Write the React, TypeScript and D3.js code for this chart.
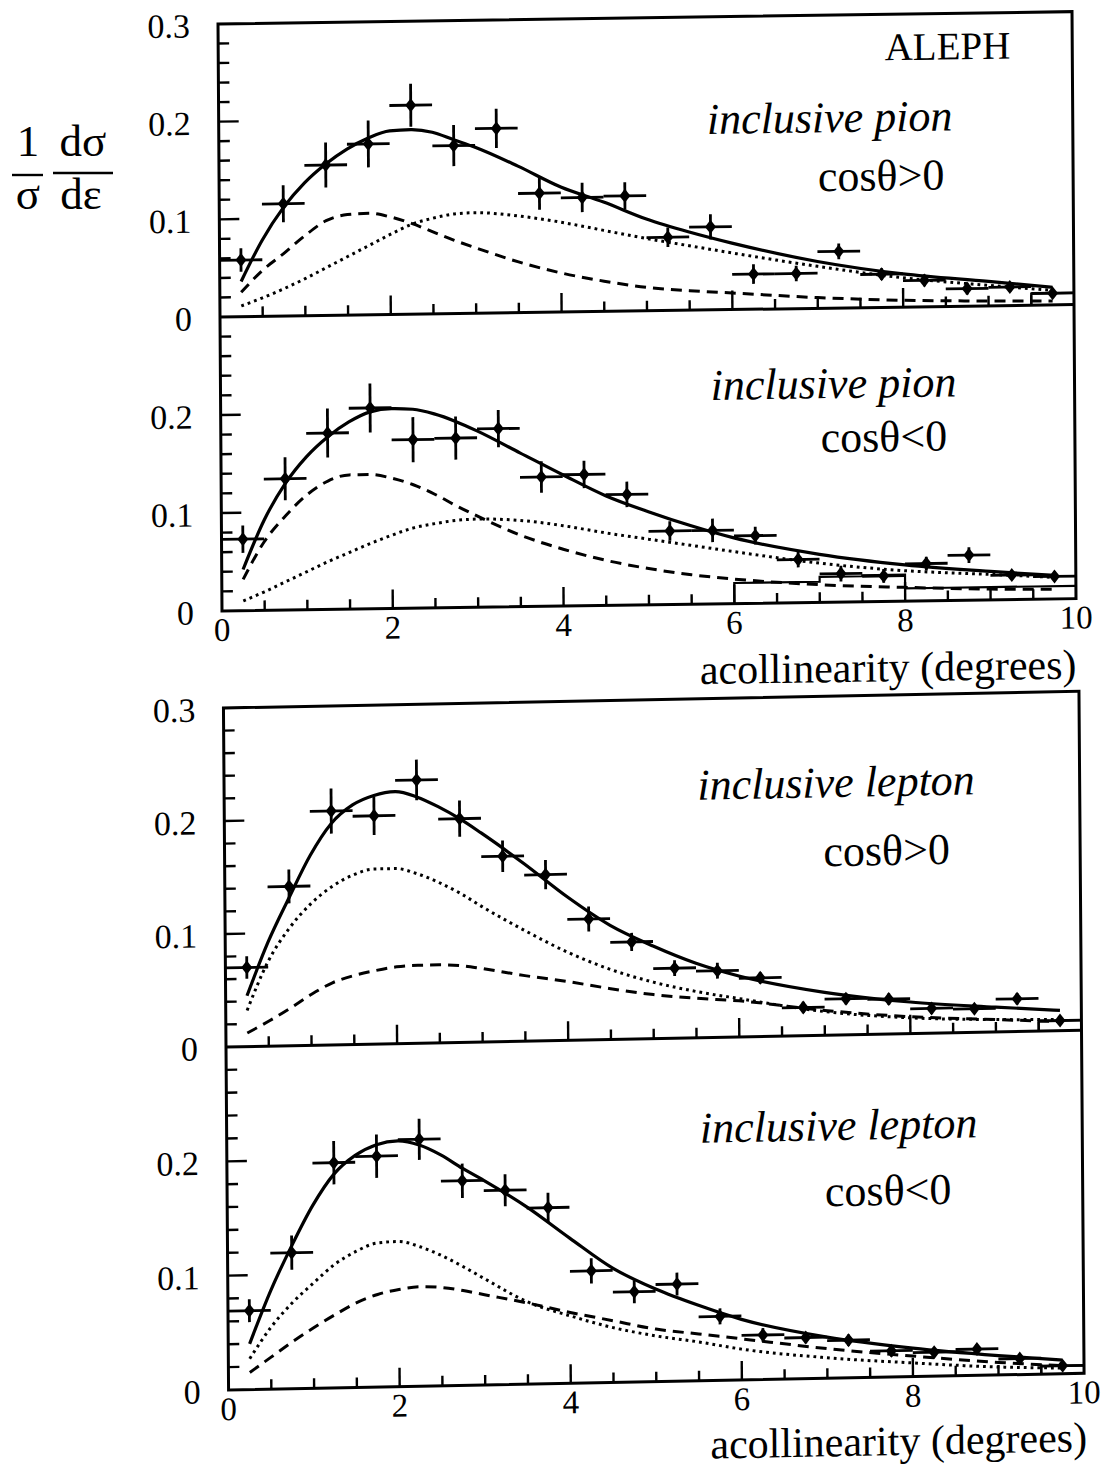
import React from "react";
import * as d3 from "d3";

const WIDTH = 1108;
const HEIGHT = 1474;
const FONT = '"Liberation Serif", "Times New Roman", Times, serif';

// Acollinearity bins: 0.5 degree wide, centres listed here
const BIN_CENTERS = [0.25, 0.75, 1.25, 1.75, 2.25, 2.75, 3.25, 3.75, 4.25, 4.75, 5.25, 5.75, 6.25, 6.75, 7.25, 7.75, 8.25, 8.75, 9.25, 9.75];
const BIN_HALF_WIDTH = 0.25;

// Abscissae at which the fitted curves are tabulated
const CURVE_X = [0.25, 0.5, 0.75, 1.0, 1.25, 1.5, 1.75, 2.0, 2.25, 2.5, 2.75, 3.0, 3.5, 4.0, 4.5, 5.0, 5.5, 6.0, 7.0, 8.0, 9.0, 9.75];

// Inclusive pion, cos(theta) > 0
const PION_FWD_VALUES = [0.058, 0.115, 0.154, 0.175, 0.214, 0.172, 0.189, 0.122, 0.117, 0.118, 0.075, 0.085, 0.036, 0.036, 0.058, 0.034, 0.027, 0.018, 0.019, 0.012];
const PION_FWD_ERRORS = [0.012, 0.019, 0.023, 0.024, 0.022, 0.021, 0.020, 0.017, 0.015, 0.014, 0.010, 0.013, 0.010, 0.008, 0.008, 0.006, 0.006, 0.006, 0.005, 0.005];
const PION_FWD_TOTAL = [0.036, 0.078, 0.111, 0.136, 0.155, 0.170, 0.181, 0.188, 0.189, 0.186, 0.178, 0.170, 0.150, 0.128, 0.112, 0.094, 0.080, 0.068, 0.048, 0.034, 0.025, 0.018];
const PION_FWD_DASHED = [0.025, 0.047, 0.064, 0.082, 0.097, 0.103, 0.104, 0.100, 0.093, 0.084, 0.075, 0.067, 0.052, 0.040, 0.031, 0.024, 0.020, 0.017, 0.011, 0.007, 0.005, 0.004];
const PION_FWD_DOTTED = [0.011, 0.019, 0.028, 0.038, 0.049, 0.060, 0.071, 0.082, 0.092, 0.098, 0.102, 0.103, 0.099, 0.092, 0.083, 0.074, 0.066, 0.058, 0.043, 0.030, 0.021, 0.015];
const PION_FWD_BG_EDGES = [9.5, 10];
const PION_FWD_BG = [0.012];

// Inclusive pion, cos(theta) < 0
const PION_BWD_VALUES = [0.073, 0.134, 0.180, 0.205, 0.172, 0.173, 0.182, 0.132, 0.134, 0.113, 0.075, 0.075, 0.069, 0.044, 0.029, 0.026, 0.038, 0.046, 0.025, 0.023];
const PION_BWD_ERRORS = [0.014, 0.022, 0.025, 0.025, 0.023, 0.022, 0.019, 0.016, 0.014, 0.013, 0.010, 0.012, 0.009, 0.008, 0.008, 0.007, 0.007, 0.008, 0.005, 0.005];
const PION_BWD_TOTAL = [0.042, 0.092, 0.129, 0.156, 0.176, 0.191, 0.201, 0.204, 0.203, 0.198, 0.190, 0.180, 0.157, 0.134, 0.112, 0.095, 0.080, 0.067, 0.049, 0.037, 0.029, 0.024];
const PION_BWD_DASHED = [0.032, 0.070, 0.096, 0.117, 0.131, 0.137, 0.137, 0.133, 0.126, 0.116, 0.104, 0.093, 0.073, 0.058, 0.046, 0.037, 0.030, 0.025, 0.018, 0.014, 0.011, 0.010];
const PION_BWD_DOTTED = [0.010, 0.019, 0.029, 0.039, 0.049, 0.058, 0.067, 0.075, 0.082, 0.086, 0.089, 0.090, 0.088, 0.082, 0.074, 0.067, 0.060, 0.053, 0.040, 0.031, 0.026, 0.022];
const PION_BWD_BG_EDGES = [6.0, 6.5, 7.0, 7.5, 8.0, 8.5, 9.0, 9.5, 10];
const PION_BWD_BG = [0.021, 0.021, 0.026, 0.027, 0.013, 0.013, 0.013, 0.013];

// Inclusive lepton, cos(theta) > 0
const LEPTON_FWD_VALUES = [0.070, 0.141, 0.207, 0.202, 0.233, 0.198, 0.164, 0.147, 0.107, 0.086, 0.062, 0.059, 0.052, 0.025, 0.032, 0.031, 0.022, 0.021, 0.029, 0.009];
const LEPTON_FWD_ERRORS = [0.010, 0.015, 0.020, 0.017, 0.018, 0.016, 0.014, 0.013, 0.011, 0.008, 0.007, 0.007, 0.005, 0.005, 0.005, 0.005, 0.005, 0.004, 0.005, 0.003];
const LEPTON_FWD_TOTAL = [0.045, 0.092, 0.131, 0.168, 0.196, 0.212, 0.220, 0.223, 0.218, 0.209, 0.198, 0.185, 0.157, 0.127, 0.101, 0.082, 0.066, 0.054, 0.038, 0.028, 0.022, 0.018];
const LEPTON_FWD_DASHED = [0.012, 0.022, 0.033, 0.045, 0.055, 0.061, 0.065, 0.068, 0.069, 0.069, 0.068, 0.065, 0.058, 0.052, 0.045, 0.039, 0.035, 0.032, 0.022, 0.015, 0.011, 0.008];
const LEPTON_FWD_DOTTED = [0.032, 0.075, 0.104, 0.125, 0.140, 0.150, 0.155, 0.155, 0.150, 0.142, 0.132, 0.120, 0.098, 0.078, 0.062, 0.050, 0.041, 0.034, 0.021, 0.014, 0.011, 0.010];
const LEPTON_FWD_BG_EDGES = [9.5, 10];
const LEPTON_FWD_BG = [0.009];

// Inclusive lepton, cos(theta) < 0
const LEPTON_BWD_VALUES = [0.069, 0.119, 0.197, 0.202, 0.216, 0.179, 0.170, 0.154, 0.098, 0.079, 0.085, 0.056, 0.039, 0.036, 0.033, 0.023, 0.021, 0.023, 0.014, 0.007];
const LEPTON_BWD_ERRORS = [0.010, 0.015, 0.019, 0.019, 0.018, 0.015, 0.014, 0.013, 0.011, 0.010, 0.010, 0.007, 0.006, 0.005, 0.005, 0.005, 0.004, 0.004, 0.004, 0.004];
const LEPTON_BWD_TOTAL = [0.040, 0.086, 0.125, 0.160, 0.187, 0.203, 0.212, 0.215, 0.211, 0.202, 0.190, 0.179, 0.155, 0.127, 0.100, 0.081, 0.066, 0.053, 0.036, 0.025, 0.017, 0.012];
const LEPTON_BWD_DASHED = [0.015, 0.028, 0.041, 0.053, 0.064, 0.074, 0.081, 0.085, 0.087, 0.086, 0.083, 0.079, 0.071, 0.062, 0.054, 0.046, 0.041, 0.036, 0.026, 0.018, 0.011, 0.007];
const LEPTON_BWD_DOTTED = [0.027, 0.054, 0.075, 0.092, 0.108, 0.119, 0.126, 0.127, 0.122, 0.114, 0.104, 0.093, 0.072, 0.059, 0.048, 0.040, 0.034, 0.027, 0.018, 0.012, 0.007, 0.005];
const LEPTON_BWD_BG_EDGES = [9.5, 10];
const LEPTON_BWD_BG = [0.007];

// Axis ticks and labels
const X_DOMAIN = [0, 10];
const Y_DOMAIN = [0, 0.3];
const X_TICK_LABELS = [0, 2, 4, 6, 8, 10];
const X_MINOR_STEP = 0.5;
const X_MAJOR_STEP = 2;
const Y_MINOR_STEP = 0.02;
const Y_MAJOR_STEP = 0.1;
const UPPER_Y_LABELS = [0.3, 0.2, 0.1, 0];
const LOWER_Y_LABELS = [0.2, 0.1];
const X_TITLE = "acollinearity (degrees)";

type PanelData = {
  title: string;
  cut: string;
  values: number[];
  errors: number[];
  total: number[];
  dashed: number[];
  dotted: number[];
  bgEdges: number[];
  bg: number[];
};

const PANELS: PanelData[] = [
  { title: "inclusive pion", cut: "cosθ>0", values: PION_FWD_VALUES, errors: PION_FWD_ERRORS, total: PION_FWD_TOTAL, dashed: PION_FWD_DASHED, dotted: PION_FWD_DOTTED, bgEdges: PION_FWD_BG_EDGES, bg: PION_FWD_BG },
  { title: "inclusive pion", cut: "cosθ<0", values: PION_BWD_VALUES, errors: PION_BWD_ERRORS, total: PION_BWD_TOTAL, dashed: PION_BWD_DASHED, dotted: PION_BWD_DOTTED, bgEdges: PION_BWD_BG_EDGES, bg: PION_BWD_BG },
  { title: "inclusive lepton", cut: "cosθ>0", values: LEPTON_FWD_VALUES, errors: LEPTON_FWD_ERRORS, total: LEPTON_FWD_TOTAL, dashed: LEPTON_FWD_DASHED, dotted: LEPTON_FWD_DOTTED, bgEdges: LEPTON_FWD_BG_EDGES, bg: LEPTON_FWD_BG },
  { title: "inclusive lepton", cut: "cosθ<0", values: LEPTON_BWD_VALUES, errors: LEPTON_BWD_ERRORS, total: LEPTON_BWD_TOTAL, dashed: LEPTON_BWD_DASHED, dotted: LEPTON_BWD_DOTTED, bgEdges: LEPTON_BWD_BG_EDGES, bg: LEPTON_BWD_BG },
];

// Page layout for the two stacked figure blocks (each holds two panels)
type GroupLayout = {
  left: number; right: number; top: number; mid: number; bottom: number;
  skewX: number; skewY: number;
  yLabelX: number; xLabelDy: number;
  titleX: [number, number]; titleY: [number, number];
  cutX: [number, number]; cutY: [number, number];
  axisTitleX: number; axisTitleY: number;
  panels: [number, number];
  aleph?: { x: number; y: number };
};

const GROUPS: GroupLayout[] = [
  {
    left: 220, right: 1074, top: 24, mid: 317, bottom: 611,
    skewX: 0.0068, skewY: -0.0145,
    yLabelX: 192, xLabelDy: 30,
    titleX: [831, 833], titleY: [141, 407],
    cutX: [882, 883], cutY: [200, 461],
    axisTitleX: 1074, axisTitleY: 691,
    panels: [0, 1],
    aleph: { x: 1012, y: 70 },
  },
  {
    left: 226, right: 1081.5, top: 708, mid: 1047, bottom: 1390,
    skewX: 0.0075, skewY: -0.0195,
    yLabelX: 198, xLabelDy: 30,
    titleX: [838, 838], titleY: [809, 1152],
    cutX: [888, 887], cutY: [878, 1218],
    axisTitleX: 1084, axisTitleY: 1468,
    panels: [2, 3],
  },
];

const fmtY = (v: number) => (v === 0 ? "0" : d3.format(".1f")(v));

function near(a: number, b: number) {
  return Math.abs(a - b) < 1e-6;
}

// filled diamond used as the data-point marker
const MARKER_PATH = "M0,-7L5.5,0L0,7L-5.5,0Z";

function PanelMarks({ data, x, y }: { data: PanelData; x: d3.ScaleLinear<number, number>; y: d3.ScaleLinear<number, number> }) {
  const line = d3
    .line<[number, number]>()
    .x((d) => x(d[0]))
    .y((d) => y(d[1]))
    .curve(d3.curveMonotoneX);
  const pts = (vals: number[]) => CURVE_X.map((cx, i) => [cx, vals[i]] as [number, number]);

  // background histogram as a step outline
  let bgPath = `M${x(data.bgEdges[0])},${y(0)}`;
  data.bg.forEach((v, i) => {
    bgPath += `V${y(v)}H${x(data.bgEdges[i + 1])}`;
  });

  return (
    <g>
      <path d={bgPath} fill="none" stroke="#000" strokeWidth={2.2} />
      <path d={line(pts(data.dotted)) as string} fill="none" stroke="#000" strokeWidth={3} strokeDasharray="2.8 4" />
      <path d={line(pts(data.dashed)) as string} fill="none" stroke="#000" strokeWidth={3} strokeDasharray="11 7" />
      <path d={line(pts(data.total)) as string} fill="none" stroke="#000" strokeWidth={3.2} />
      {BIN_CENTERS.map((c, i) => {
        const v = data.values[i];
        const e = data.errors[i];
        return (
          <g key={i}>
            <line x1={x(c - BIN_HALF_WIDTH)} x2={x(c + BIN_HALF_WIDTH)} y1={y(v)} y2={y(v)} stroke="#000" strokeWidth={2.8} />
            <line x1={x(c)} x2={x(c)} y1={y(v - e)} y2={y(v + e)} stroke="#000" strokeWidth={2.8} />
            <path d={MARKER_PATH} transform={`translate(${x(c)},${y(v)})`} fill="#000" />
          </g>
        );
      })}
    </g>
  );
}

function Group({ g }: { g: GroupLayout }) {
  const x = d3.scaleLinear().domain(X_DOMAIN).range([g.left, g.right]);
  const yUpper = d3.scaleLinear().domain(Y_DOMAIN).range([g.mid, g.top]);
  const yLower = d3.scaleLinear().domain(Y_DOMAIN).range([g.bottom, g.mid]);
  const scales = [yUpper, yLower];

  const xTicks = d3.range(X_DOMAIN[0] + X_MINOR_STEP, X_DOMAIN[1] - 1e-6, X_MINOR_STEP);
  const yTicks = d3.range(Y_DOMAIN[0] + Y_MINOR_STEP, Y_DOMAIN[1] - 1e-6, Y_MINOR_STEP);
  const isMajorX = (t: number) => near(t / X_MAJOR_STEP, Math.round(t / X_MAJOR_STEP));
  const isMajorY = (t: number) => near(t / Y_MAJOR_STEP, Math.round(t / Y_MAJOR_STEP));

  const ox = g.left;
  const oy = g.mid;
  const transform = `translate(${ox},${oy}) matrix(1,${g.skewY},${g.skewX},1,0,0) translate(${-ox},${-oy})`;

  return (
    <g transform={transform}>
      {g.panels.map((pi, k) => (
        <PanelMarks key={pi} data={PANELS[pi]} x={x} y={scales[k]} />
      ))}

      {/* frames */}
      <rect x={g.left} y={g.top} width={g.right - g.left} height={g.bottom - g.top} fill="none" stroke="#000" strokeWidth={3} />
      <line x1={g.left} x2={g.right} y1={g.mid} y2={g.mid} stroke="#000" strokeWidth={3} />

      {/* ticks */}
      {scales.map((ys, k) => (
        <g key={k}>
          {xTicks.map((t) => (
            <line key={`x${t}`} x1={x(t)} x2={x(t)} y1={ys(0)} y2={ys(0) - (isMajorX(t) ? 19 : 10)} stroke="#000" strokeWidth={2.4} />
          ))}
          {yTicks.map((t) => (
            <line key={`y${t}`} x1={g.left} x2={g.left + (isMajorY(t) ? 20 : 11)} y1={ys(t)} y2={ys(t)} stroke="#000" strokeWidth={2.4} />
          ))}
        </g>
      ))}

      {/* y tick labels */}
      <g fontFamily={FONT} fontSize={34} textAnchor="end">
        {UPPER_Y_LABELS.map((v) => (
          <text key={`u${v}`} x={g.yLabelX} y={yUpper(v) + 13}>{fmtY(v)}</text>
        ))}
        {LOWER_Y_LABELS.map((v) => (
          <text key={`l${v}`} x={g.yLabelX} y={yLower(v) + 13}>{fmtY(v)}</text>
        ))}
        <text x={g.yLabelX} y={yLower(0) + 13}>0</text>
      </g>

      {/* x tick labels */}
      <g fontFamily={FONT} fontSize={33} textAnchor="middle">
        {X_TICK_LABELS.map((t) => (
          <text key={t} x={x(t)} y={g.bottom + g.xLabelDy}>{t}</text>
        ))}
      </g>
      <text x={g.axisTitleX} y={g.axisTitleY} fontFamily={FONT} fontSize={42} textAnchor="end">{X_TITLE}</text>

      {/* panel captions */}
      {g.panels.map((pi, k) => (
        <g key={`c${pi}`} fontFamily={FONT} fontSize={44} textAnchor="middle">
          <text x={g.titleX[k]} y={g.titleY[k]} fontStyle="italic">{PANELS[pi].title}</text>
          <text x={g.cutX[k]} y={g.cutY[k]}>{PANELS[pi].cut}</text>
        </g>
      ))}
      {g.aleph && (
        <text x={g.aleph.x} y={g.aleph.y} fontFamily={FONT} fontSize={39} textAnchor="end">ALEPH</text>
      )}
    </g>
  );
}

function YTitle() {
  return (
    <g fontFamily={FONT} fontSize={45} textAnchor="middle">
      <text x={28} y={156}>1</text>
      <line x1={12} x2={43} y1={175} y2={175} stroke="#000" strokeWidth={2.4} />
      <text x={28} y={209}>σ</text>
      <text x={83} y={156}>dσ</text>
      <line x1={53} x2={113} y1={173} y2={173} stroke="#000" strokeWidth={2.4} />
      <text x={81} y={209}>dε</text>
    </g>
  );
}

export default function App() {
  return (
    <div style={{ position: "absolute", left: 0, top: 0 }}>
      <svg width={WIDTH} height={HEIGHT} viewBox={`0 0 ${WIDTH} ${HEIGHT}`} style={{ display: "block", background: "#fff" }}>
        <rect x={0} y={0} width={WIDTH} height={HEIGHT} fill="#fff" />
        <YTitle />
        {GROUPS.map((g, i) => (
          <Group key={i} g={g} />
        ))}
      </svg>
    </div>
  );
}
